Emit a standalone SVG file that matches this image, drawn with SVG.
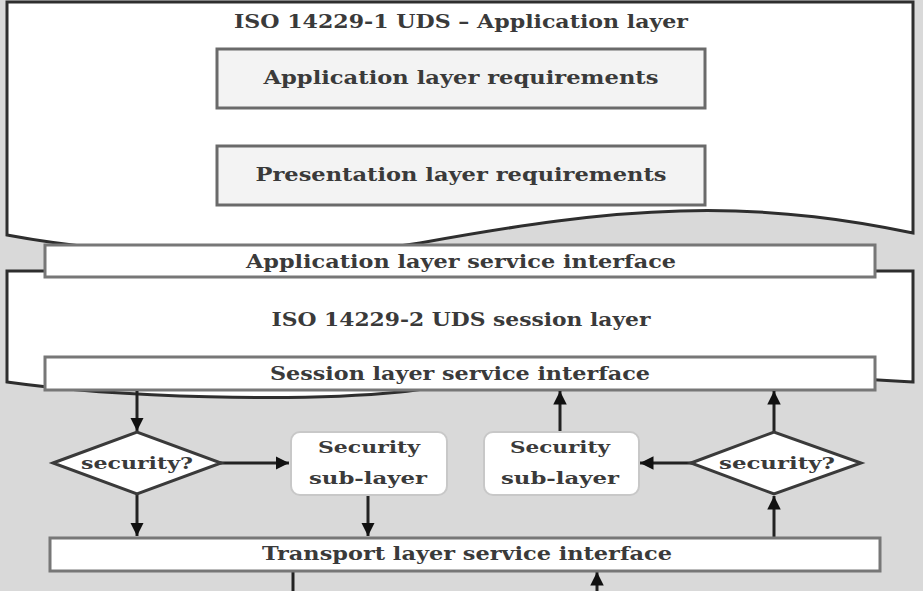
<svg xmlns="http://www.w3.org/2000/svg" width="923" height="591" viewBox="0 0 923 591">
<defs>
<style>
.t{font-family:"DejaVu Serif","Liberation Serif",serif;font-weight:bold;font-size:18px;fill:#3a3a3a;text-anchor:middle}
.s{font-size:17px}
.doc{fill:#fff;stroke:#2e2e2e;stroke-width:3}
.bar{fill:#fff;stroke:#777;stroke-width:3}
.req{fill:#f3f3f3;stroke:#6a6a6a;stroke-width:3}
.sec{fill:#fff;stroke:#c8c8c8;stroke-width:2}
.dia{fill:#fff;stroke:#3a3a3a;stroke-width:3}
.c{fill:none;stroke:#222;stroke-width:3}
</style>
<marker id="ah" viewBox="0 0 10 10" refX="10" refY="5" markerWidth="4.5" markerHeight="4.5" markerUnits="strokeWidth" orient="auto">
<path d="M0,0 L10,5 L0,10 Z" fill="#111"/>
</marker>
</defs>
<rect x="0" y="0" width="923" height="591" fill="#d9d9d9"/>

<g id="app-layer">
<path class="doc" d="M7,2 L913,2 L913,233 C 860,222 780,208 680,211 C 600,213 520,225 420,243 C 300,262 130,258 7,235 Z"/>
<text class="t" x="461" y="28" textLength="454" lengthAdjust="spacingAndGlyphs">ISO 14229-1 UDS – Application layer</text>
</g>
<g id="app-req">
<rect class="req" x="217" y="49" width="488" height="59"/>
<text class="t" x="461" y="84" textLength="395" lengthAdjust="spacingAndGlyphs">Application layer requirements</text>
</g>
<g id="pres-req">
<rect class="req" x="217" y="146" width="488" height="59"/>
<text class="t" x="461" y="181" textLength="411" lengthAdjust="spacingAndGlyphs">Presentation layer requirements</text>
</g>

<g id="session-layer">
<path class="doc" d="M7,271 L913,271 L913,382 C 800,375 700,370 560,375 C 480,378 440,388 400,392 C 300,402 120,398 7,382 Z"/>
<text class="t" x="461" y="326" textLength="379" lengthAdjust="spacingAndGlyphs">ISO 14229-2 UDS session layer</text>
</g>

<g id="app-interface">
<rect class="bar" x="45" y="245" width="830" height="32"/>
<text class="t" x="461" y="268" textLength="430" lengthAdjust="spacingAndGlyphs">Application layer service interface</text>
</g>
<g id="session-interface">
<rect class="bar" x="45" y="357" width="830" height="33"/>
<text class="t" x="460" y="380" textLength="380" lengthAdjust="spacingAndGlyphs">Session layer service interface</text>
</g>

<g id="connectors">
<line class="c" x1="137" y1="391" x2="137" y2="431" marker-end="url(#ah)"/>
<line class="c" x1="220" y1="463" x2="289" y2="463" marker-end="url(#ah)"/>
<line class="c" x1="137" y1="494" x2="137" y2="536" marker-end="url(#ah)"/>
<line class="c" x1="368" y1="495" x2="368" y2="536" marker-end="url(#ah)"/>
<line class="c" x1="560" y1="432" x2="560" y2="391" marker-end="url(#ah)"/>
<line class="c" x1="692" y1="463" x2="640" y2="463" marker-end="url(#ah)"/>
<line class="c" x1="774" y1="432" x2="774" y2="391" marker-end="url(#ah)"/>
<line class="c" x1="774" y1="537" x2="774" y2="496" marker-end="url(#ah)"/>
<line class="c" x1="293" y1="572" x2="293" y2="591"/>
<line class="c" x1="597" y1="591" x2="597" y2="572" marker-end="url(#ah)"/>
</g>

<g id="security-left">
<path class="dia" d="M53,463 L137,432 L221,463 L137,494 Z"/>
<text class="t s" x="137" y="469" textLength="112" lengthAdjust="spacingAndGlyphs">security?</text>
</g>
<g id="sublayer-left">
<rect class="sec" x="291" y="432" width="156" height="63" rx="9"/>
<text class="t s" x="369" y="453" textLength="102" lengthAdjust="spacingAndGlyphs">Security</text>
<text class="t s" x="368" y="484" textLength="118" lengthAdjust="spacingAndGlyphs">sub-layer</text>
</g>
<g id="sublayer-right">
<rect class="sec" x="484" y="432" width="155" height="63" rx="9"/>
<text class="t s" x="560" y="453" textLength="100" lengthAdjust="spacingAndGlyphs">Security</text>
<text class="t s" x="560" y="484" textLength="118" lengthAdjust="spacingAndGlyphs">sub-layer</text>
</g>
<g id="security-right">
<path class="dia" d="M691,463 L774,432 L861,463 L774,494 Z"/>
<text class="t s" x="777" y="469" textLength="116" lengthAdjust="spacingAndGlyphs">security?</text>
</g>

<g id="transport-interface">
<rect class="bar" x="50" y="538" width="830" height="33"/>
<text class="t" x="467" y="560" textLength="410" lengthAdjust="spacingAndGlyphs">Transport layer service interface</text>
</g>
</svg>
